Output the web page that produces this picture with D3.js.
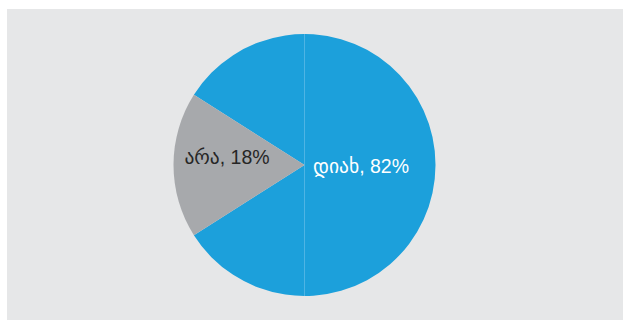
<!DOCTYPE html>
<html>
<head>
<meta charset="utf-8">
<script src="https://cdn.jsdelivr.net/npm/d3@7"></script>
<style>
  html, body { margin: 0; padding: 0; background: #ffffff; }
  svg { display: block; }
</style>
</head>
<body>
<svg id="chart" width="623" height="320"></svg>
<script>
// Survey answers: share of respondents
const categories = ["დიახ", "არა"];
const values = [82, 18];
const colors = ["#1ca0db", "#a7a9ac"];
const labelColors = ["#ffffff", "#262626"];

const width = 623, height = 320;
const svg = d3.select("#chart");

// panel background
svg.append("rect")
  .attr("x", 7).attr("y", 9)
  .attr("width", width - 7).attr("height", height - 9)
  .attr("fill", "#e6e7e8");

const cx = 304.5, cy = 165, radius = 131;
const g = svg.append("g").attr("transform", `translate(${cx},${cy})`);

// rotate so the smaller slice faces left and the larger faces right
const total = d3.sum(values);
const offset = -Math.PI * (values[0] / total);
const pie = d3.pie().sort(null).value(d => d)
  .startAngle(Math.PI / 2 + offset)
  .endAngle(Math.PI / 2 + offset + 2 * Math.PI);
const arcs = pie(values);

const arc = d3.arc().innerRadius(0).outerRadius(radius);

g.selectAll("path.slice")
  .data(arcs)
  .join("path")
  .attr("class", "slice")
  .attr("d", arc)
  .attr("fill", (d, i) => colors[i]);

// thin vertical seam through the centre
g.append("line")
  .attr("x1", 0).attr("x2", 0)
  .attr("y1", -radius).attr("y2", radius)
  .attr("stroke", "#5cb9e6")
  .attr("stroke-width", 0.8);

// labels placed along each slice's bisector
const labelRadius = [56.5, 77.5];
const labelDy = [7.5, -1];
g.selectAll("text.label")
  .data(arcs)
  .join("text")
  .attr("class", "label")
  .attr("transform", (d, i) => {
    const r = labelRadius[i];
    const c = d3.arc().innerRadius(r).outerRadius(r).centroid(d);
    return `translate(${c[0]},${c[1] + labelDy[i]})`;
  })
  .attr("text-anchor", "middle")
  .attr("font-family", "'Liberation Sans', 'DejaVu Sans', Arial, sans-serif")
  .attr("font-size", 19.5)
  .attr("fill", (d, i) => labelColors[i])
  .text((d, i) => `${categories[i]}, ${values[i]}%`);
</script>
</body>
</html>
